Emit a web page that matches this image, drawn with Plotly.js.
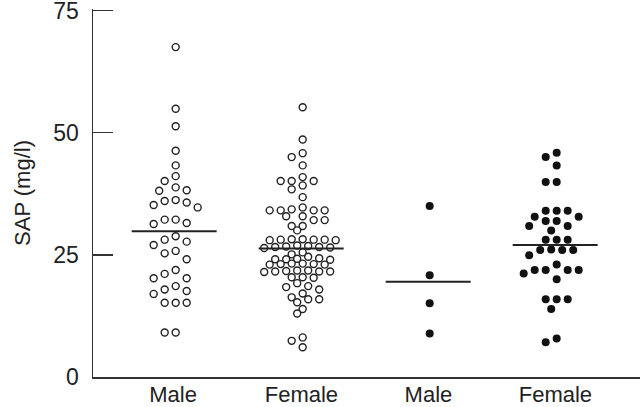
<!DOCTYPE html>
<html>
<head>
<meta charset="utf-8">
<script src="https://cdn.plot.ly/plotly-3.0.1.min.js"></script>
<style>html,body{margin:0;padding:0;background:#fff;}#chart{width:640px;height:407px;}</style>
</head>
<body>
<div id="chart"></div>
<script>
// ---- Data (SAP mg/l) ----
const groupLabels = ["Male", "Female", "Male", "Female"];
const group1Open = [67.5, 54.9, 51.3, 46.3, 43.3, 41.1, 40.1, 38.8, 38.1, 38.2, 36.0, 35.2, 34.7, 35.7, 36.2,
  32.2, 31.3, 31.5, 32.2, 28.8, 27.7, 27.0, 28.1, 25.8, 24.1, 25.3, 21.9, 20.2, 20.2, 21.1, 18.6, 17.0, 17.6,
  17.9, 15.2, 15.2, 15.2, 9.1, 9.1];
const group2Open = [55.2, 48.6, 45.0, 45.8, 43.3, 40.9, 40.1, 39.2, 40.1, 40.1, 38.4, 36.8,
  34.3, 34.1, 34.1, 34.7, 34.1, 34.1, 32.9, 32.9, 32.1, 32.1, 30.9, 30.9, 30.0,
  28.1, 28.2, 28.0, 28.1, 28.2, 28.0, 28.1,
  26.6, 26.8, 26.5, 26.4, 26.6, 26.7, 26.9,
  25.5, 25.1, 24.1, 24.2, 24.0, 24.1, 24.3, 24.6,
  23.1, 23.0, 23.2, 23.1, 23.0, 23.2,
  21.7, 21.6, 21.5, 21.8, 21.6, 21.8, 21.6,
  20.4, 20.3, 20.4, 19.2, 17.9, 18.6, 18.4, 17.1, 15.9, 15.9, 16.3, 15.3, 13.9, 13.0, 8.1, 7.4, 6.1];
const group3Filled = [35.0, 20.8, 15.1, 8.9];
const group4Filled = [45.0, 45.9, 43.3, 39.9, 39.9, 32.8, 34.0, 34.0, 34.0, 31.9, 32.8, 31.9, 30.9, 30.9, 30.0,
  28.1, 28.1, 28.1, 26.0, 26.0, 26.1, 26.0, 24.9, 23.0, 21.9, 21.9, 21.2, 21.9, 21.9, 20.0,
  15.9, 15.9, 15.9, 13.9, 7.1, 7.9];
const groupMeans = [29.8, 26.3, 19.5, 27.0];
const yTicks = [0, 25, 50, 75];

// ---- Layout constants ----
const W = 640, H = 407;
const M = {l: 93, r: 0, t: 8.5, b: 30};
const xRange = [0.349, 4.656];
const yRange = [0, 75.3];
const pxPerX = (W - M.l - M.r) / (xRange[1] - xRange[0]);
const pxPerY = (H - M.t - M.b) / (yRange[1] - yRange[0]);

// simple beeswarm: offsets computed in pixel space
function swarm(values, step, diam) {
  const idx = values.map((v, i) => i).sort((a, b) => values[b] - values[a]);
  const placed = [];
  const offs = new Array(values.length).fill(0);
  idx.forEach(i => {
    const y = values[i] * pxPerY;
    for (let k = 0; k < 40; k++) {
      const cand = k === 0 ? [0] : [-k * step, k * step];
      let found = null;
      for (const c of cand) {
        const ok = placed.every(p => Math.hypot(p.x - c, p.y - y) >= diam);
        if (ok) { found = c; break; }
      }
      if (found !== null) { offs[i] = found; placed.push({x: found, y: y}); break; }
    }
  });
  return offs.map(o => o / pxPerX);
}

const groups = [group1Open, group2Open, group3Filled, group4Filled];
const filled = [false, false, true, true];
const swarmDiam = [10.6, 7.0, 10.6, 10.2];
const traces = [];
groups.forEach((vals, g) => {
  const offs = swarm(vals, 5.5, swarmDiam[g]);
  traces.push({
    type: 'scatter', mode: 'markers',
    x: vals.map((v, i) => (g + 1) + offs[i]),
    y: vals,
    marker: filled[g]
      ? {size: 8, color: '#111', line: {color: '#111', width: 0}}
      : {size: 7, color: '#fff', line: {color: '#222', width: 1.4}},
    cliponaxis: false, hoverinfo: 'y', showlegend: false
  });
});
groupMeans.forEach((m, g) => {
  const half = 42.5 / pxPerX;
  traces.push({
    type: 'scatter', mode: 'lines',
    x: [(g + 1) - half - 1.5 / pxPerX, (g + 1) + half - 1.5 / pxPerX], y: [m, m],
    line: {color: '#222', width: 2}, showlegend: false, hoverinfo: 'skip'
  });
});

const layout = {
  width: W, height: H,
  margin: M,
  paper_bgcolor: '#fff', plot_bgcolor: '#fff',
  font: {family: 'Liberation Sans, Arial, sans-serif', color: '#222'},
  showlegend: false,
  xaxis: {
    range: xRange, showgrid: false, zeroline: false,
    showline: true, linecolor: '#333', linewidth: 1.5,
    ticks: '', tickvals: [0.98, 1.99, 2.99, 3.99], ticktext: groupLabels,
    tickfont: {size: 22, color: '#222'}, ticklabelstandoff: -3
  },
  yaxis: {
    range: yRange, showgrid: false, zeroline: false,
    showline: true, linecolor: '#333', linewidth: 1.5,
    ticks: 'inside', ticklen: 20, tickwidth: 1.5, tickcolor: '#333',
    tickvals: yTicks, tickfont: {size: 23, color: '#222'}, ticklabelstandoff: 8,
    ticklabeloverflow: 'allow',
    title: {text: 'SAP (mg/l)', font: {size: 22, color: '#222'}, standoff: 16}
  }
};
Plotly.newPlot('chart', traces, layout, {staticPlot: true, displayModeBar: false});
</script>
</body>
</html>
